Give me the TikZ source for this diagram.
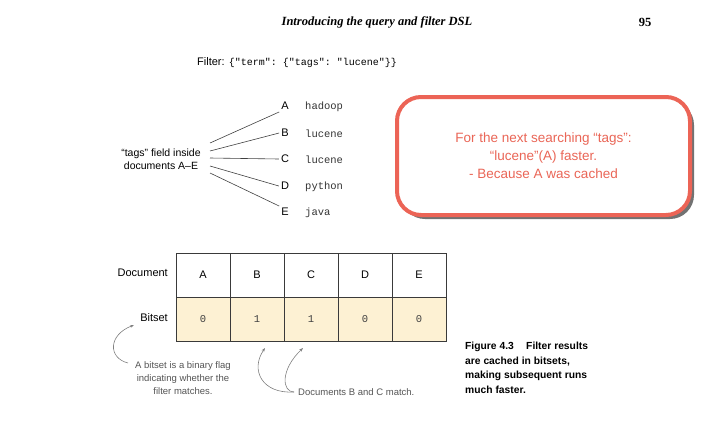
\documentclass[tikz,border=0pt]{standalone}
\usepackage{fontspec}
\setmainfont{Liberation Sans}
\setmonofont{Liberation Mono}
\newfontfamily\headfont{Liberation Serif}
\usetikzlibrary{shadows,arrows.meta}
\definecolor{coral}{HTML}{EC6456}
\definecolor{coraltext}{HTML}{EA6657}
\definecolor{bitfill}{HTML}{FDF1D3}
\definecolor{notegray}{HTML}{555555}
\definecolor{arrowgray}{HTML}{808080}
\definecolor{gridline}{HTML}{3A3A3A}
\tikzset{
  headtxt/.style={font=\headfont\bfseries\fontsize{12.5}{14}\selectfont},
  lbl/.style={font=\fontsize{11}{13}\selectfont, inner sep=2pt},
  letter/.style={font=\fontsize{11}{13}\selectfont, inner sep=2pt},
  word/.style={font=\ttfamily\fontsize{10.5}{13}\selectfont, anchor=west, inner sep=0pt, text=black!80},
  branch/.style={draw=black!75, line width=0.6pt},
  cell/.style={draw=gridline, line width=0.6pt, minimum width=54pt, minimum height=44pt, inner sep=0pt, font=\fontsize{11}{13}\selectfont},
  bitcell/.style={cell, fill=bitfill, font=\ttfamily\fontsize{10.5}{13}\selectfont, text=black!75},
  note/.style={font=\fontsize{9.5}{13}\selectfont, text=notegray, align=center, inner sep=0pt},
  notearrow/.style={draw=arrowgray, line width=0.6pt, -{Stealth[length=4pt,width=3pt]}},
  callout/.style={draw=coral, line width=4pt, rounded corners=24pt, fill=white,
     minimum width=293pt, minimum height=118pt, text=coraltext, align=center,
     font=\fontsize{13.5}{18}\selectfont,
     drop shadow={shadow xshift=4pt, shadow yshift=-4pt, fill=black!65, opacity=0.85}},
  caption/.style={font=\bfseries\fontsize{10.3}{14.5}\selectfont, align=left, anchor=north west, inner sep=0pt}
}
\begin{document}
\begin{tikzpicture}[x=1pt,y=-1pt]
\useasboundingbox (0,0) rectangle (710,445);
% header
\node[headtxt, font=\headfont\bfseries\itshape\fontsize{12.5}{14}\selectfont] (head) at (377,22) {Introducing the query and filter DSL};
\node[headtxt] (page) at (645,22) {95};
% filter line
\node[anchor=west, inner sep=0pt, font=\fontsize{11}{13}\selectfont] (filter) at (197,63)
  {Filter: {\ttfamily\fontsize{10}{13}\selectfont\{"term": \{"tags": "lucene"\}\}}};
% tree
\node[lbl, align=center, font=\fontsize{10.5}{13}\selectfont] (tags) at (161,159) {“tags” field inside\\documents A–E};
\coordinate (s1) at (210,143);
\coordinate (s2) at (210,151);
\coordinate (s3) at (210,158);
\coordinate (s4) at (210,166);
\coordinate (s5) at (210,173);
\node[letter] (A) at (285,106) {A};
\node[letter] (B) at (285,133) {B};
\node[letter] (C) at (285,159) {C};
\node[letter] (D) at (285,186) {D};
\node[letter] (E) at (285,212) {E};
\node[word] (wA) at (305,107) {hadoop};
\node[word] (wB) at (305,134) {lucene};
\node[word] (wC) at (305,160) {lucene};
\node[word] (wD) at (305,187) {python};
\node[word] (wE) at (305,213) {java};
\draw[branch] (s1) -- (A.south west);
\draw[branch] (s2) -- (B.west);
\draw[branch] (s3) -- (C.west);
\draw[branch] (s4) -- (D.west);
\draw[branch] (s5) -- (E.north west);
% callout
\node[callout] (box) at (543.5,156) {For the next searching “tags”:\\“lucene”(A) faster.\\- Because A was cached};
% table
\node[cell] (dA) at (203,275) {A};
\node[cell] (dB) at (257,275) {B};
\node[cell] (dC) at (311,275) {C};
\node[cell] (dD) at (365,275) {D};
\node[cell] (dE) at (419,275) {E};
\node[bitcell] (bA) at (203,319) {0};
\node[bitcell] (bB) at (257,319) {1};
\node[bitcell] (bC) at (311,319) {1};
\node[bitcell] (bD) at (365,319) {0};
\node[bitcell] (bE) at (419,319) {0};
\node[lbl, anchor=east] (doclbl) at (170,273) {Document};
\node[lbl, anchor=east] (bitlbl) at (170,318) {Bitset};
% notes
\node[note] (bitnote) at (183,378) {A bitset is a binary flag\\indicating whether the\\filter matches.};
\node[note, anchor=west] (matchnote) at (298,392) {Documents B and C match.};
\coordinate (n1) at (128,363);
\coordinate (t1) at (134,325);
\draw[notearrow] (n1) .. controls (108,358) and (108,335) .. (t1);
\coordinate (n2) at (294,392);
\coordinate (t2) at (265,348);
\coordinate (t3) at (303,348);
\draw[notearrow] (n2) .. controls (262,394) and (250,370) .. (t2);
\draw[notearrow] (n2) .. controls (282,392) and (280,370) .. (t3);
% caption
\node[caption] (cap) at (465,342) {Figure 4.3\hspace{1.2em}Filter results\\are cached in bitsets,\\making subsequent runs\\much faster.};
\end{tikzpicture}
\end{document}
